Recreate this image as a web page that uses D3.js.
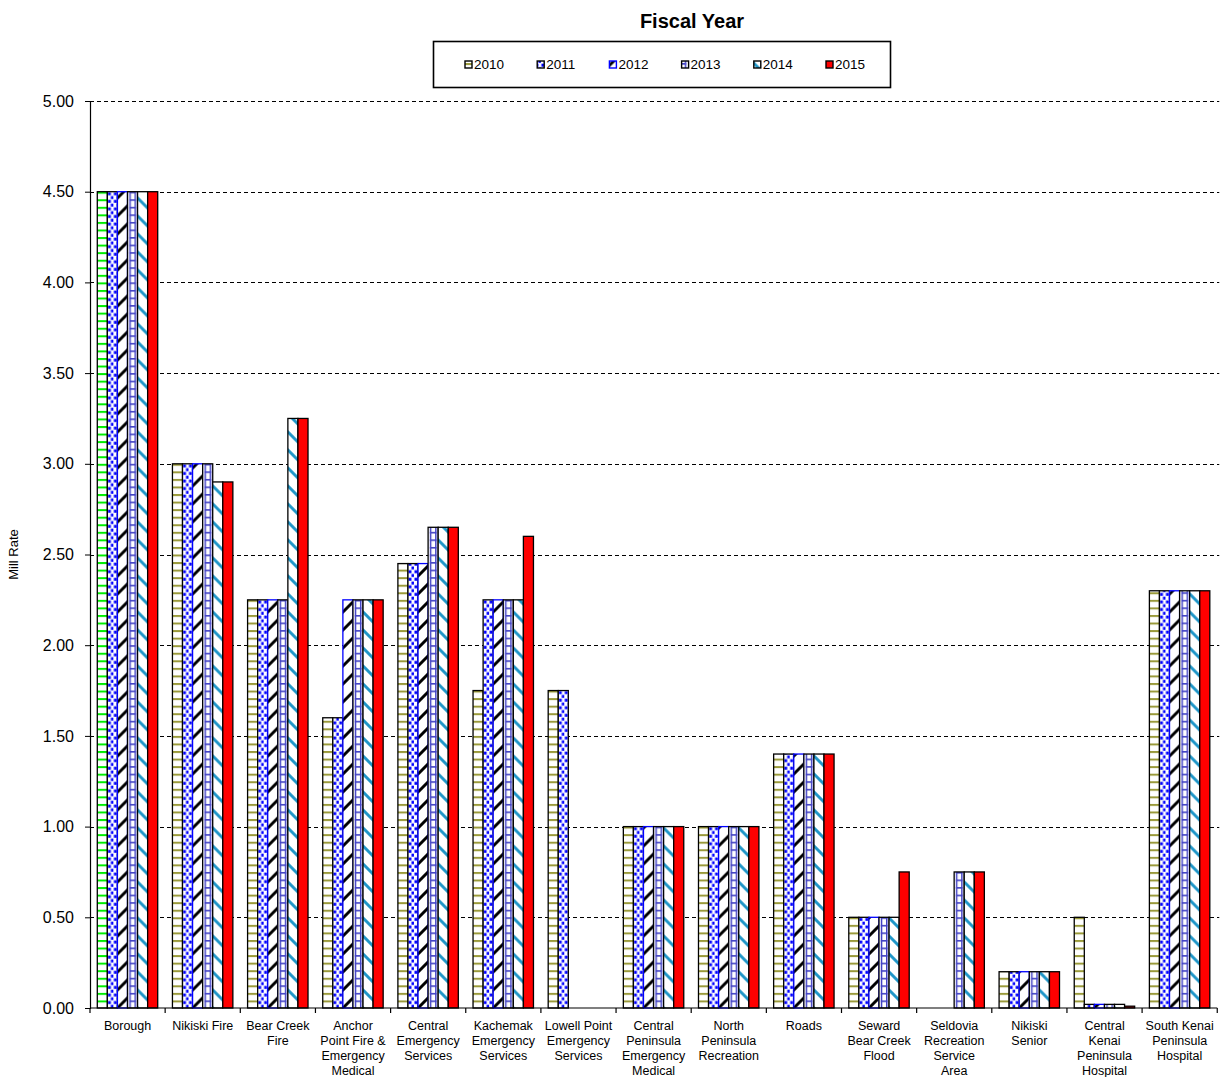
<!DOCTYPE html>
<html>
<head>
<meta charset="utf-8">
<script src="https://cdn.jsdelivr.net/npm/d3@7"></script>
<style>
  body { margin: 0; background: #fff; }
  svg { display: block; font-family: Arial, "Liberation Sans", sans-serif; }
</style>
</head>
<body>
<svg id="chart" width="1225" height="1077"></svg>
<script>
// Mill rates by service area, fiscal years 2010-2015
const categories = [
  "Borough", "Nikiski Fire", "Bear Creek Fire", "Anchor Point Fire & Emergency Medical",
  "Central Emergency Services", "Kachemak Emergency Services", "Lowell Point Emergency Services",
  "Central Peninsula Emergency Medical", "North Peninsula Recreation", "Roads",
  "Seward Bear Creek Flood", "Seldovia Recreation Service Area", "Nikiski Senior",
  "Central Kenai Peninsula Hospital", "South Kenai Peninsula Hospital"
];
const categoryLines = [
  ["Borough"], ["Nikiski Fire"], ["Bear Creek", "Fire"],
  ["Anchor", "Point Fire &", "Emergency", "Medical"],
  ["Central", "Emergency", "Services"], ["Kachemak", "Emergency", "Services"],
  ["Lowell Point", "Emergency", "Services"],
  ["Central", "Peninsula", "Emergency", "Medical"],
  ["North", "Peninsula", "Recreation"], ["Roads"],
  ["Seward", "Bear Creek", "Flood"], ["Seldovia", "Recreation", "Service", "Area"],
  ["Nikiski", "Senior"], ["Central", "Kenai", "Peninsula", "Hospital"],
  ["South Kenai", "Peninsula", "Hospital"]
];
const years = ["2010", "2011", "2012", "2013", "2014", "2015"];
const fy2010 = [4.50, 3.00, 2.25, 1.60, 2.45, 1.75, 1.75, 1.00, 1.00, 1.40, 0.50, null, 0.20, 0.50, 2.30];
const fy2011 = [4.50, 3.00, 2.25, 1.60, 2.45, 2.25, 1.75, 1.00, 1.00, 1.40, 0.50, null, 0.20, 0.02, 2.30];
const fy2012 = [4.50, 3.00, 2.25, 2.25, 2.45, 2.25, null, 1.00, 1.00, 1.40, 0.50, null, 0.20, 0.02, 2.30];
const fy2013 = [4.50, 3.00, 2.25, 2.25, 2.65, 2.25, null, 1.00, 1.00, 1.40, 0.50, 0.75, 0.20, 0.02, 2.30];
const fy2014 = [4.50, 2.90, 3.25, 2.25, 2.65, 2.25, null, 1.00, 1.00, 1.40, 0.50, 0.75, 0.20, 0.02, 2.30];
const fy2015 = [4.50, 2.90, 3.25, 2.25, 2.65, 2.60, null, 1.00, 1.00, 1.40, 0.75, 0.75, 0.20, 0.01, 2.30];
const yTicks = [0, 0.5, 1, 1.5, 2, 2.5, 3, 3.5, 4, 4.5, 5];

const seriesValues = [fy2010, fy2011, fy2012, fy2013, fy2014, fy2015];

const svg = d3.select("#chart");
const plotLeft = 90, plotRight = 1217.25, plotTop = 101, plotBottom = 1008;

const y = d3.scaleLinear().domain([0, 5]).range([plotBottom, plotTop]);
const x0 = d3.scaleBand().domain(categories).range([plotLeft, plotRight]).padding(0);
const bw = x0.bandwidth();
const x1 = d3.scaleBand().domain(years).range([bw * 0.097, bw * 0.901]).padding(0);

const period = (y(0) - y(0.5)) / 12;
const diag = 18;
const olive = "#9a9a3a", blue = "#0000ff", gridBlue = "#4242c4", teal = "#1f96c8";
const strokeFor = ["#000", "#000", blue, "#000", "#000", "#000"];

const defs = svg.append("defs");

// fill patterns, one per bar so each starts at the bar's left edge
function makePattern(id, si, ox, oy, lineColor) {
  if (si === 5) return "#ff0000";
  let w, h;
  if (si === 0) { w = 20; h = period; }
  else if (si === 1) { w = 6; h = period; }
  else if (si === 3) { w = 10; h = period; }
  else { w = diag; h = diag; }
  const p = defs.append("pattern")
    .attr("id", id)
    .attr("patternUnits", "userSpaceOnUse")
    .attr("width", w).attr("height", h)
    .attr("patternTransform", `translate(${ox},${oy})`);
  p.append("rect").attr("width", w).attr("height", h).attr("fill", "#fff");
  if (si === 0) {
    p.append("rect").attr("x", 0).attr("y", 0).attr("width", w).attr("height", 2).attr("fill", lineColor || olive);
  } else if (si === 1) {
    p.append("rect").attr("x", 0.5).attr("y", 0.6).attr("width", 3).attr("height", 3).attr("fill", blue);
    p.append("rect").attr("x", 3.5).attr("y", 0.6 + h / 2).attr("width", 3).attr("height", 3).attr("fill", blue);
  } else if (si === 2) {
    p.append("path")
      .attr("d", `M0,${h} L${w},0 M${-w / 2},${h / 2} L${w / 2},${-h / 2} M${w / 2},${1.5 * h} L${1.5 * w},${h / 2}`)
      .attr("stroke", "#000").attr("stroke-width", 3);
  } else if (si === 3) {
    p.append("rect").attr("x", 1.8).attr("y", 0).attr("width", 1.5).attr("height", h).attr("fill", gridBlue);
    p.append("rect").attr("x", 7.0).attr("y", 0).attr("width", 1.5).attr("height", h).attr("fill", gridBlue);
    p.append("rect").attr("x", 1.8).attr("y", 0).attr("width", 6.7).attr("height", 1.6).attr("fill", gridBlue);
  } else if (si === 4) {
    p.append("path")
      .attr("d", `M0,0 L${w},${h} M${-w / 2},${h / 2} L${w / 2},${1.5 * h} M${w / 2},${-h / 2} L${1.5 * w},${h / 2}`)
      .attr("stroke", teal).attr("stroke-width", 3);
  }
  return `url(#${id})`;
}

// gridlines
svg.append("g").selectAll("line")
  .data(yTicks.filter(d => d > 0))
  .join("line")
  .attr("x1", plotLeft).attr("x2", plotRight + 2)
  .attr("y1", d => Math.round(y(d)) + 0.5).attr("y2", d => Math.round(y(d)) + 0.5)
  .attr("stroke", "#000").attr("stroke-width", 1).attr("stroke-dasharray", "4,3");

// bars
const bars = [];
categories.forEach((c, ci) => {
  years.forEach((yr, si) => {
    const v = seriesValues[si][ci];
    if (v == null) return;
    bars.push({ c, ci, yr, si, v });
  });
});

svg.append("g").selectAll("rect")
  .data(bars)
  .join("rect")
  .attr("x", d => x0(d.c) + x1(d.yr))
  .attr("y", d => y(d.v))
  .attr("width", x1.bandwidth())
  .attr("height", d => y(0) - y(d.v))
  .attr("fill", d => makePattern(`p${d.ci}_${d.si}`, d.si, x0(d.c) + x1(d.yr), y(0),
      d.si === 0 && d.ci === 0 ? "#00ee00" : null))
  .attr("stroke", d => strokeFor[d.si])
  .attr("stroke-width", 1.3);

// y axis
const yAxis = svg.append("g")
  .attr("transform", `translate(${plotLeft},0)`)
  .call(d3.axisLeft(y).tickValues(yTicks).tickSize(5).tickPadding(11).tickFormat(d3.format(".2f")));
yAxis.select(".domain").attr("stroke", "#000").attr("stroke-width", 1.2);
yAxis.selectAll(".tick line").attr("stroke", "#000");
yAxis.selectAll(".tick text").attr("font-size", 16).attr("fill", "#000")
  .attr("font-family", "Arial, 'Liberation Sans', sans-serif");

// x axis baseline and category boundary ticks
svg.append("line")
  .attr("x1", plotLeft).attr("x2", plotRight)
  .attr("y1", plotBottom).attr("y2", plotBottom)
  .attr("stroke", "#000").attr("stroke-width", 1.2);
svg.append("g").selectAll("line")
  .data(categories.map(c => x0(c)).concat([plotRight]))
  .join("line")
  .attr("x1", d => d).attr("x2", d => d)
  .attr("y1", plotBottom).attr("y2", plotBottom + 5)
  .attr("stroke", "#000").attr("stroke-width", 1.2);

// category labels
const labels = svg.append("g").selectAll("text")
  .data(categories)
  .join("text")
  .attr("x", d => x0(d) + bw / 2)
  .attr("y", 1029.5)
  .attr("text-anchor", "middle")
  .attr("font-size", 12.5)
  .attr("fill", "#000");
labels.each(function (d, i) {
  d3.select(this).selectAll("tspan")
    .data(categoryLines[i])
    .join("tspan")
    .attr("x", x0(d) + bw / 2)
    .attr("dy", (t, k) => k === 0 ? 0 : 15)
    .text(t => t);
});

// axis title
svg.append("text")
  .attr("transform", `translate(18,${(plotTop + plotBottom) / 2}) rotate(-90)`)
  .attr("text-anchor", "middle")
  .attr("font-size", 13)
  .text("Mill Rate");

// chart title
svg.append("text")
  .attr("x", 692).attr("y", 28)
  .attr("text-anchor", "middle")
  .attr("font-size", 20).attr("font-weight", "bold")
  .text("Fiscal Year");

// legend
const legend = svg.append("g");
legend.append("rect")
  .attr("x", 433.5).attr("y", 41.5).attr("width", 457).attr("height", 46)
  .attr("fill", "#fff").attr("stroke", "#000").attr("stroke-width", 1.6);
const items = legend.selectAll("g.item")
  .data(years)
  .join("g").attr("class", "item")
  .attr("transform", (d, i) => `translate(${465 + i * 72.2},0)`);
items.append("rect")
  .attr("x", 0).attr("y", 61).attr("width", 7).attr("height", 7)
  .attr("fill", (d, i) => makePattern(`leg${i}`, i, 465 + i * 72.2 - 5.5, 61 - 5.5))
  .attr("stroke", (d, i) => strokeFor[i]).attr("stroke-width", 1.4);
items.append("text")
  .attr("x", 9).attr("y", 64.5).attr("dy", "0.35em")
  .attr("font-size", 13.5)
  .text(d => d);
</script>
</body>
</html>
